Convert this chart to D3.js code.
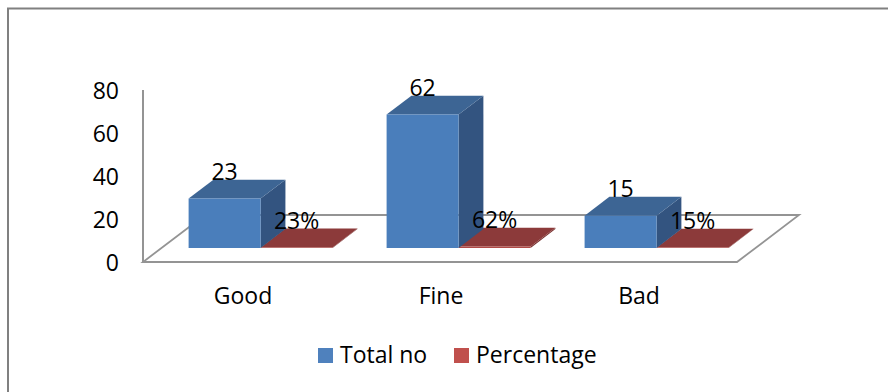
<!DOCTYPE html>
<html>
<head>
<meta charset="utf-8">
<script src="https://cdn.jsdelivr.net/npm/d3@7"></script>
<style>
html,body{margin:0;padding:0;background:#fff;}
svg{display:block;}
text{font-family:"Open Sans",Lato,sans-serif;fill:#000;}
</style>
</head>
<body>
<svg id="chart" width="888" height="392"></svg>
<script>
const categories = ["Good", "Fine", "Bad"];
const seriesNames = ["Total no", "Percentage"];
const totalNo = [23, 62, 15];
const percentage = [0.23, 0.62, 0.15];
const yTicks = [0, 20, 40, 60, 80];

const seriesColors = [
  {front: "#4a7ebb", top: "#3d6594", side: "#335480", legend: "#4f81bd"},
  {front: "#b04a47", top: "#8c3a3a", side: "#7a3230", legend: "#c0504d"}
];

const svg = d3.select("#chart");
const fontSize = 23;

// Oblique projection: depth fraction z moves a point up and to the right.
const depthX = 62, depthY = 47;
const zFront = 0.3, zBack = 0.7;

const x = d3.scaleBand().domain(categories).range([143, 737]).paddingInner(0.2727).paddingOuter(0.1364);
const xSeries = d3.scaleBand().domain(d3.range(seriesNames.length)).range([0, x.bandwidth()]);
const y = d3.scaleLinear().domain([0, 80]).range([262, 90]);

const project = (px, value, z) => [px + z * depthX, y(value) - z * depthY];
const line = d3.line();

// Outer chart frame
svg.append("path")
  .attr("d", "M8,392V8.5H888")
  .attr("fill", "none").attr("stroke", "#808080").attr("stroke-width", 2);

// Floor outline and value axis
const axisColor = "#949494";
const [x0, x1] = x.range();
svg.append("path")
  .attr("d", line([project(x0, 0, 1), project(x1, 0, 1), project(x1, 0, 0), project(x0, 0, 0), project(x0, 0, 1)]))
  .attr("fill", "none").attr("stroke", axisColor).attr("stroke-width", 1.8);
svg.append("path")
  .attr("d", line([[x0, y(80)], [x0, y(0)]]))
  .attr("stroke", axisColor).attr("stroke-width", 2);

// Value axis labels
svg.append("g").selectAll("text").data(yTicks).join("text")
  .attr("x", 119).attr("y", d => y(d) + 9)
  .attr("text-anchor", "end").attr("font-size", fontSize)
  .text(d => d);

// 3D columns, each one built from front, top and side faces
function drawBars(values, seriesIndex) {
  const color = seriesColors[seriesIndex];
  const g = svg.append("g");
  categories.forEach((cat, i) => {
    const left = x(cat) + xSeries(seriesIndex);
    const right = left + xSeries.bandwidth();
    const v = values[i];
    const fl0 = project(left, 0, zFront), fr0 = project(right, 0, zFront);
    const flv = project(left, v, zFront), frv = project(right, v, zFront);
    const blv = project(left, v, zBack), brv = project(right, v, zBack), br0 = project(right, 0, zBack);
    g.append("path").attr("d", line([fr0, br0, brv, frv]) + "Z").attr("fill", color.side);
    g.append("path").attr("d", line([flv, frv, brv, blv]) + "Z").attr("fill", color.top);
    g.append("path").attr("d", line([fl0, fr0, frv, flv]) + "Z").attr("fill", color.front);
  });
}

function drawLabels(values, seriesIndex, format) {
  svg.append("g").selectAll("text").data(values).join("text")
    .attr("x", (d, i) => (project(x(categories[i]) + xSeries(seriesIndex), d, zFront)[0]) + xSeries.bandwidth() / 2)
    .attr("y", d => project(0, d, zBack)[1])
    .attr("text-anchor", "middle").attr("font-size", fontSize)
    .text(format);
}

// The near-flat percentage series is painted first so the taller columns overlap it.
drawBars(percentage, 1);
drawBars(totalNo, 0);
drawLabels(totalNo, 0, d => d);
drawLabels(percentage, 1, d3.format(".0%"));

// Category labels
svg.append("g").selectAll("text").data(categories).join("text")
  .attr("x", d => x(d) + x.bandwidth() / 2 + 1)
  .attr("y", 304)
  .attr("text-anchor", "middle").attr("font-size", fontSize)
  .text(d => d);

// Legend
const legendX = [318, 454];
const legend = svg.append("g").selectAll("g").data(seriesNames).join("g")
  .attr("transform", (d, i) => `translate(${legendX[i]},348)`);
legend.append("rect").attr("width", 15).attr("height", 15)
  .attr("fill", (d, i) => seriesColors[i].legend);
legend.append("text").attr("x", 22).attr("y", 15)
  .attr("font-size", fontSize).text(d => d);
</script>
</body>
</html>
